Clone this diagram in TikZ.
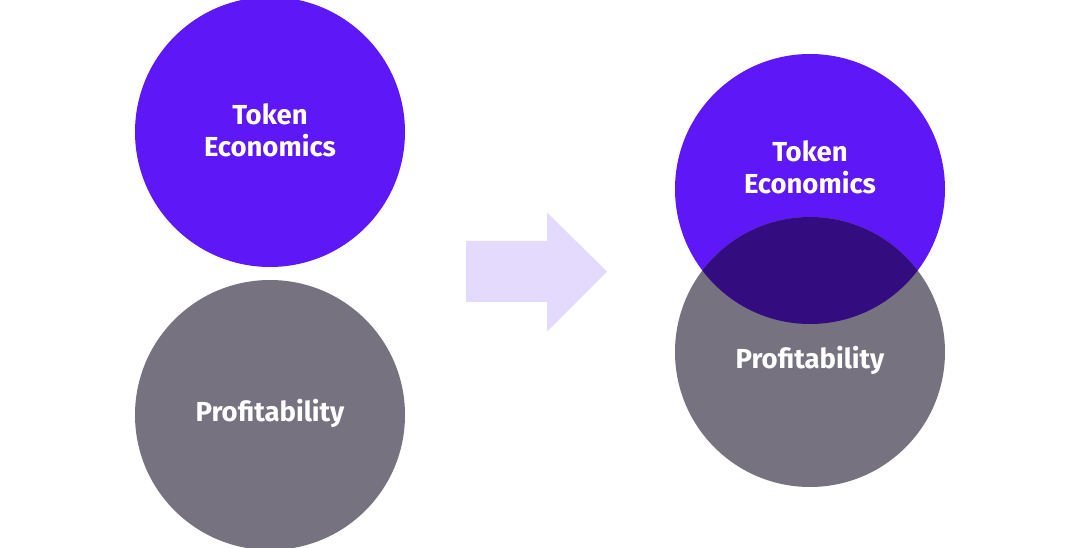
\documentclass[tikz,border=0pt]{standalone}
\usepackage{fontspec}
\setmainfont{Fira Sans}
\definecolor{tokpurple}{HTML}{5E17F7}
\definecolor{profgray}{HTML}{767280}
\definecolor{overlapc}{HTML}{330D80}
\definecolor{arrowc}{HTML}{E4DAFD}
\begin{document}
\begin{tikzpicture}[x=1pt,y=-1pt,
  bubble/.style={circle,minimum size=270pt,inner sep=0pt,draw=none},
  lbl/.style={text=white,font=\fontsize{27.5}{32}\selectfont\bfseries,align=center,inner sep=0pt}]
\useasboundingbox (0,0) rectangle (1080,548);
\fill[white] (0,0) rectangle (1080,548);
% left pair
\node[bubble,fill=tokpurple] (tl) at (270,132) {};
\node[bubble,fill=profgray] (pl) at (270,415) {};
\node[lbl] (tlt) at (270,130) {Token\\Economics};
\node[lbl] (plt) at (270,413) {Profitability};
% arrow
\fill[arrowc] (466,241) -- (547,241) -- (547,212.5) -- (607,271.5) -- (547,331.5) -- (547,302) -- (466,302) -- cycle;
% right pair
\node[bubble,fill=tokpurple] (tr) at (810,189) {};
\node[bubble,fill=profgray] (pr) at (810,352) {};
\begin{scope}
  \clip (tr.center) circle[radius=135pt];
  \fill[overlapc] (pr.center) circle[radius=135pt];
\end{scope}
\node[lbl] (trt) at (810,167) {Token\\Economics};
\node[lbl] (prt) at (810,360) {Profitability};
\end{tikzpicture}
\end{document}
